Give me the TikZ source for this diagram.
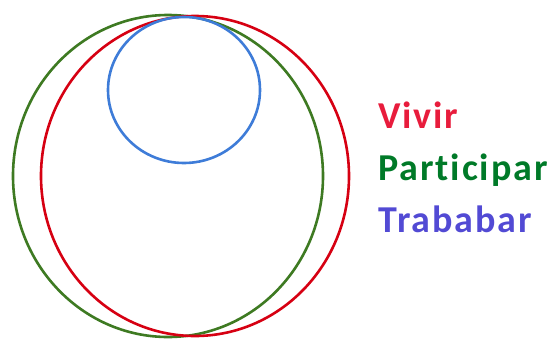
\documentclass[tikz,border=0pt]{standalone}
\usepackage{fontspec}
\setmainfont{Carlito}[Ligatures=NoCommon]
\newfontfamily\legendfont{Carlito}[Ligatures=NoCommon,LetterSpace=5,BoldFont={* Bold}]
\usepackage{xcolor}
\usepackage{tikz}
\usetikzlibrary{positioning}

\definecolor{ringred}{RGB}{214,0,18}
\definecolor{ringgreen}{RGB}{62,122,34}
\definecolor{ringblue}{RGB}{62,124,216}
\definecolor{txtred}{RGB}{232,28,60}
\definecolor{txtgreen}{RGB}{0,122,40}
\definecolor{txtblue}{RGB}{82,74,212}

\begin{document}
\begin{tikzpicture}[x=1pt,y=-1pt,line width=2.6pt,
    lbl/.style={font=\legendfont\bfseries\fontsize{38}{38}\selectfont,anchor=base west,inner sep=0pt}]
    \useasboundingbox (0,0) rectangle (547,338);

    % the three sets
    \draw[ringgreen] (168,176) ellipse [x radius=155, y radius=161];
    \draw[ringred] (195,176) ellipse [x radius=154, y radius=160];
    \draw[ringblue] (184,90) ellipse [x radius=76, y radius=73];

    % legend
    \node[lbl,text=txtred] (vivir) at (377,128) {Vivir};
    \node[lbl,text=txtgreen] (part) at (377,180) {Participar};
    \node[lbl,text=txtblue] (trab) at (377,232) {Trababar};
\end{tikzpicture}
\end{document}
